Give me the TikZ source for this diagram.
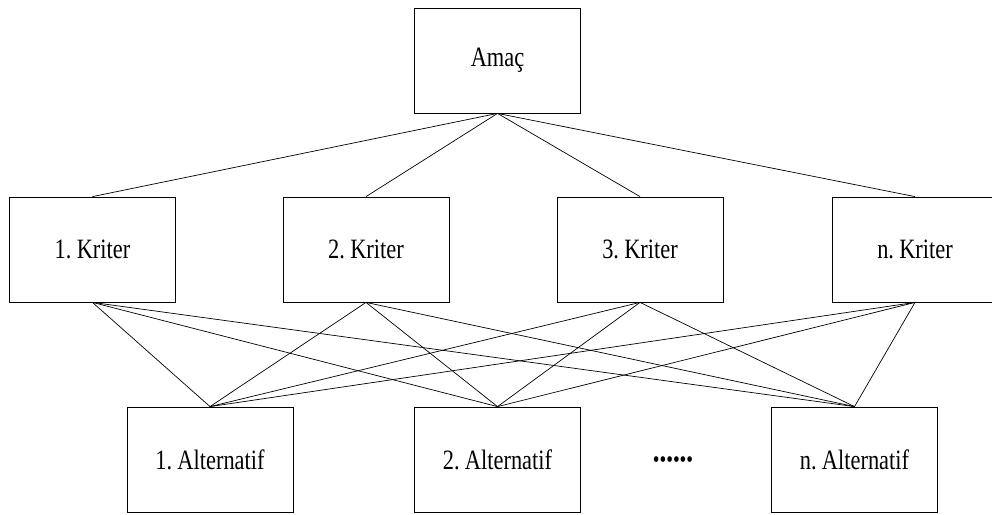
\documentclass[tikz,border=0pt]{standalone}
\usepackage{fontspec}
\setmainfont[FakeStretch=0.8,WordSpace=0.6]{Liberation Serif}
\begin{document}
\begin{tikzpicture}[x=1pt,y=-1pt,
  level/.style={draw,line width=0.8pt,minimum width=166pt,minimum height=105pt,
    inner sep=0pt,font=\fontsize{28}{32}\selectfont},
  link/.style={line width=0.7pt}]
\useasboundingbox (0,0) rectangle (992,514);
% goal
\node[level] (goal) at (497.5,60.5) {Amaç};
% criteria
\node[level] (k1) at (92.5,249.5) {1. Kriter};
\node[level] (k2) at (366,249.5) {2. Kriter};
\node[level] (k3) at (640,249.5) {3. Kriter};
\node[level] (kn) at (915,249.5) {n. Kriter};
% alternatives
\node[level] (a1) at (210,459.5) {1. Alternatif};
\node[level] (a2) at (497.5,459.5) {2. Alternatif};
\node[level] (an) at (854.5,459.5) {n. Alternatif};
\node[font=\fontsize{24}{28}\selectfont] (dots) at (673,462) {••••••};
% goal to criteria
\foreach \k in {k1,k2,k3,kn}
  \draw[link] (goal.south) -- (\k.north);
% criteria to alternatives
\foreach \k in {k1,k2,k3,kn}
  \foreach \a in {a1,a2,an}
    \draw[link] (\k.south) -- (\a.north);
\end{tikzpicture}
\end{document}
